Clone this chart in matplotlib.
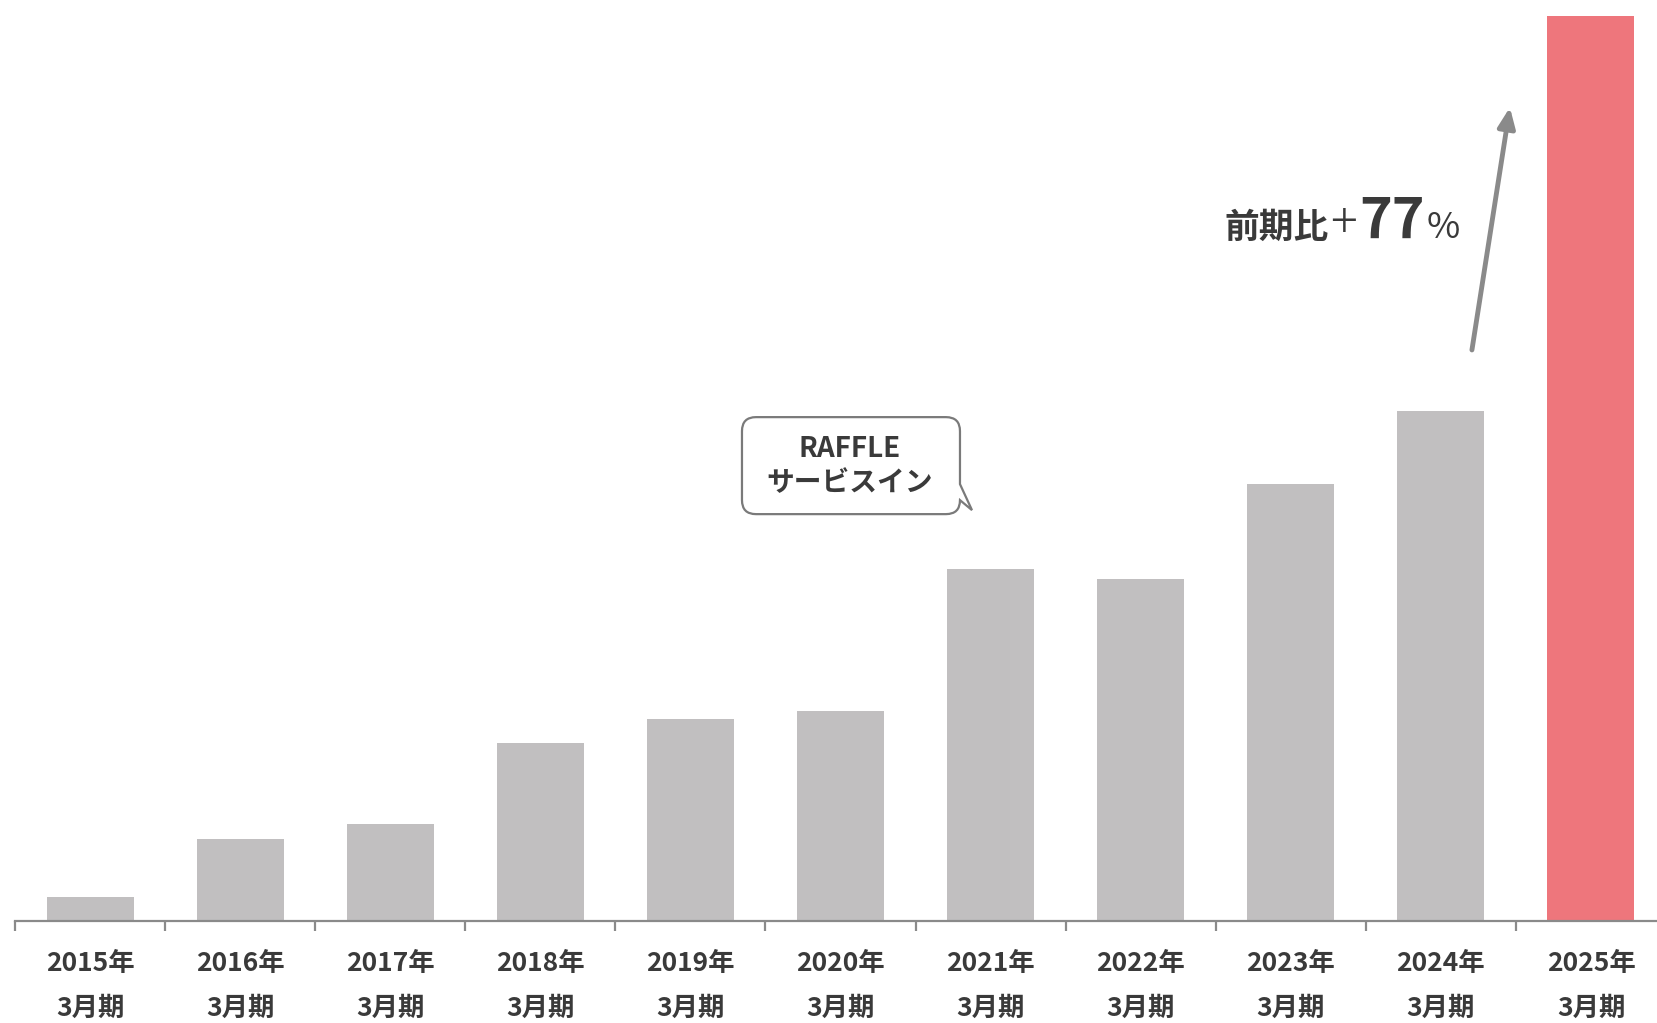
import matplotlib
matplotlib.use("Agg")
import matplotlib.pyplot as plt
import matplotlib.transforms as mtransforms
from matplotlib.path import Path
from matplotlib.patches import PathPatch, FancyArrowPatch

plt.rcParams['font.family'] = ['Noto Sans CJK JP', 'DejaVu Sans']

# ---- data -------------------------------------------------------------
fiscal_years = ["2015年", "2016年", "2017年", "2018年", "2019年", "2020年",
                "2021年", "2022年", "2023年", "2024年", "2025年"]
period_label = "3月期"
sales_index = [2.6, 9.1, 10.7, 19.7, 22.3, 23.2, 38.9, 37.8, 48.3, 56.4, 100.0]
highlight_year = "2025年"
growth_parts = ["前期比", "+", "77", "%"]
callout_lines = ["RAFFLE", "サービスイン"]

GREY = "#C1BFC0"
RED = "#EE767C"
TEXT = "#3A3A3A"
AXIS = "#8A8A8A"

fig = plt.figure(figsize=(16.57, 10.23), dpi=100)
W, H = 1657, 1023
ax = fig.add_axes([15 / W, 102 / H, 1651 / W, 905 / H])

x = list(range(len(fiscal_years)))
colors = [RED if y == highlight_year else GREY for y in fiscal_years]
ax.bar(x, sales_index, width=0.58, color=colors, zorder=2)

ax.set_xlim(-0.5, len(fiscal_years) - 0.5)
ax.set_ylim(0, 100)

for s in ["top", "right", "left"]:
    ax.spines[s].set_visible(False)
ax.spines["bottom"].set_color(AXIS)
ax.spines["bottom"].set_linewidth(1.6)
ax.set_yticks([])
ax.set_xticks(x)
ax.set_xticklabels([])
ax.tick_params(axis="x", which="major", length=0)
ax.set_xticks([i - 0.5 for i in range(len(fiscal_years) + 1)], minor=True)
ax.tick_params(axis="x", which="minor", length=7, width=1.6, color=AXIS,
               direction="out")

# category labels (two lines)
trans = mtransforms.blended_transform_factory(ax.transData, ax.transAxes)
for i, yr in enumerate(fiscal_years):
    ax.text(i, -0.0465, yr, transform=trans, ha="center", va="center",
            fontsize=19, fontweight="bold", color=TEXT)
    ax.text(i, -0.0965, period_label, transform=trans, ha="center", va="center",
            fontsize=19, fontweight="bold", color=TEXT)

# growth arrow
arrow = FancyArrowPatch((9.207, 63.1), (9.46, 89.9),
                        arrowstyle="-|>,head_length=0.6,head_width=0.26",
                        mutation_scale=20, lw=3.5, color="#8A8A8A",
                        shrinkA=0, shrinkB=0, zorder=3)
ax.add_patch(arrow)

# growth label, pieces laid out along one baseline
fig.canvas.draw()
renderer = fig.canvas.get_renderer()
ident = mtransforms.IdentityTransform()
px, py = ax.transData.transform((7.56, 75.5))
styles = [(25, "bold"), (36, "light"), (40, "bold"), (26, "normal")]
gaps = [1, 3, 1, 0]
for part, (size, weight), gap in zip(growth_parts, styles, gaps):
    t = ax.text(px, py, part, transform=ident, ha="left", va="baseline",
                fontsize=size, fontweight=weight, color=TEXT, zorder=4)
    px = t.get_window_extent(renderer).x1 + gap

# speech-bubble callout, anchored at its tail tip
tip = ax.transData.transform((5.876, 45.4))
L, R, T, B, r = -230, -12, 93, -4, 14
verts = [
    (L + r, T), (R - r, T),
    (R, T), (R, T - r),
    (R, 26), (0, 0), (R, 10),
    (R, B), (R - r, B),
    (L + r, B),
    (L, B), (L, B + r),
    (L, T - r),
    (L, T), (L + r, T),
    (L + r, T),
]
codes = [Path.MOVETO, Path.LINETO,
         Path.CURVE3, Path.CURVE3,
         Path.LINETO, Path.LINETO, Path.LINETO,
         Path.CURVE3, Path.CURVE3,
         Path.LINETO,
         Path.CURVE3, Path.CURVE3,
         Path.LINETO,
         Path.CURVE3, Path.CURVE3,
         Path.CLOSEPOLY]
bubble = PathPatch(Path(verts, codes), facecolor="white", edgecolor="#7A7A7A",
                   lw=1.6, transform=mtransforms.Affine2D().translate(*tip),
                   zorder=5)
ax.add_patch(bubble)
ax.text(5.063, 52.1, callout_lines[0], ha="center", va="center", fontsize=20,
        fontweight="bold", color=TEXT, zorder=6)
ax.text(5.063, 48.4, callout_lines[1], ha="center", va="center", fontsize=20,
        fontweight="bold", color=TEXT, zorder=6)

fig.savefig("out.png", dpi=100, facecolor="white")
